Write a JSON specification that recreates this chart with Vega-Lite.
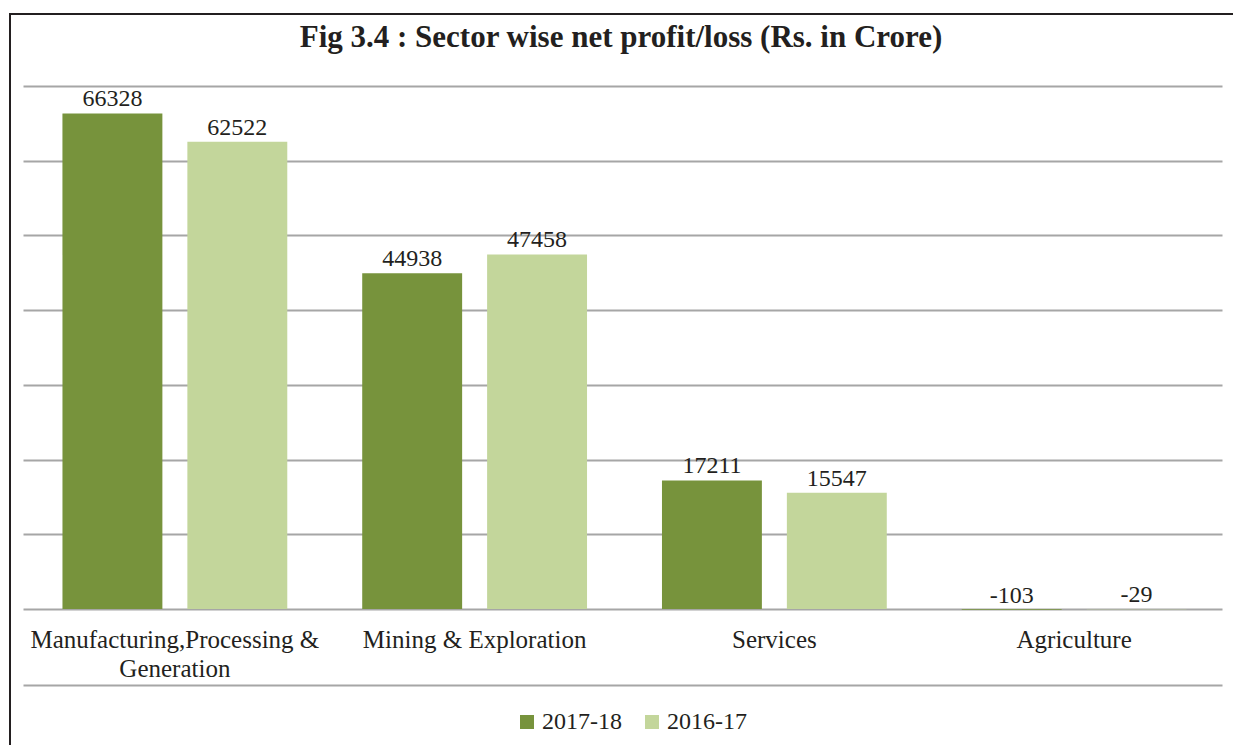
{
  "$schema": "https://vega.github.io/schema/vega-lite/v6.json",
  "width": 1240,
  "height": 745,
  "autosize": {"type": "none"},
  "padding": {"left": 10, "top": 14, "right": -17, "bottom": -14},
  "background": "white",
  "title": {
    "text": "Fig 3.4 : Sector wise net profit/loss (Rs. in Crore)",
    "font": "Liberation Serif",
    "fontSize": 31,
    "fontWeight": "bold",
    "color": "#231f20",
    "anchor": "middle",
    "offset": 0,
    "dy": 64,
    "dx": -9,
    "baseline": "alphabetic"
  },
  "config": {
    "view": {"stroke": "#231f20", "strokeWidth": 2},
    "font": "Liberation Serif"
  },
  "data": {
    "values": [
      {"sector": "Manufacturing,Processing & Generation", "year": "2017-18", "value": 66328},
      {"sector": "Manufacturing,Processing & Generation", "year": "2016-17", "value": 62522},
      {"sector": "Mining & Exploration", "year": "2017-18", "value": 44938},
      {"sector": "Mining & Exploration", "year": "2016-17", "value": 47458},
      {"sector": "Services", "year": "2017-18", "value": 17211},
      {"sector": "Services", "year": "2016-17", "value": 15547},
      {"sector": "Agriculture", "year": "2017-18", "value": -103},
      {"sector": "Agriculture", "year": "2016-17", "value": -29}
    ]
  },
  "encoding": {
    "x": {
      "field": "sector",
      "type": "nominal",
      "sort": ["Manufacturing,Processing & Generation", "Mining & Exploration", "Services", "Agriculture"],
      "scale": {"range": [15, 1214], "paddingInner": 0.25, "paddingOuter": 0.125},
      "axis": {
        "orient": "bottom",
        "offset": -150,
        "domain": false,
        "ticks": false,
        "tickSize": 0,
        "grid": false,
        "labelPadding": 18,
        "labelFontSize": 25,
        "labelFont": "Liberation Serif",
        "labelColor": "#231f20",
        "labelLineHeight": 29,
        "labelAngle": 0,
        "labelLimit": 0,
        "labelOverlap": false,
        "title": null,
        "labelExpr": "datum.value == 'Manufacturing,Processing & Generation' ? ['Manufacturing,Processing &', 'Generation'] : datum.label"
      }
    },
    "xOffset": {
      "field": "year",
      "type": "nominal",
      "sort": ["2017-18", "2016-17"],
      "scale": {"paddingInner": 0.2, "paddingOuter": 0}
    },
    "y": {
      "field": "value",
      "type": "quantitative",
      "scale": {"domain": [-10172, 70000], "range": [671, 72], "zero": false, "nice": false},
      "axis": {
        "orient": "left",
        "offset": -13,
        "values": [-10172, 0, 10000, 20000, 30000, 40000, 50000, 60000, 70000],
        "tickSize": -1199,
        "tickColor": "#a6a6a6",
        "tickWidth": 2,
        "domain": false,
        "labels": false,
        "grid": false,
        "title": null
      }
    }
  },
  "layer": [
    {
      "mark": {"type": "bar"},
      "encoding": {
        "color": {
          "field": "year",
          "type": "nominal",
          "sort": ["2017-18", "2016-17"],
          "scale": {"domain": ["2017-18", "2016-17"], "range": ["#77933c", "#c3d69b"]},
          "legend": {
            "orient": "none",
            "legendX": 505,
            "legendY": 696,
            "direction": "horizontal",
            "title": null,
            "symbolType": "square",
            "symbolSize": 196,
            "symbolStrokeWidth": 0,
            "labelFontSize": 24,
            "labelFont": "Liberation Serif",
            "labelColor": "#231f20",
            "labelOffset": 3,
            "columnPadding": 18,
            "padding": 0
          }
        }
      }
    },
    {
      "mark": {"type": "text", "baseline": "alphabetic", "dy": -7, "fontSize": 24, "font": "Liberation Serif", "color": "#231f20"},
      "encoding": {
        "text": {"field": "value", "type": "nominal"}
      }
    }
  ]
}
